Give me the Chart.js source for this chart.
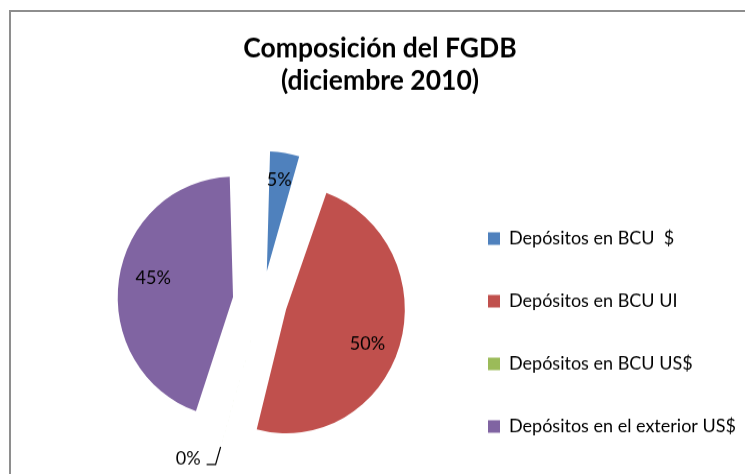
<!DOCTYPE html>
<html><head><meta charset="utf-8">
<script src="https://cdn.jsdelivr.net/npm/chart.js@4.4.1/dist/chart.umd.min.js"></script>
<style>
html,body{margin:0;padding:0;background:#fff;overflow:hidden;}
#wrap{position:relative;width:745px;height:474px;overflow:hidden;background:#fff;}
#frame{position:absolute;left:9px;top:10px;width:800px;height:500px;border-top:2px solid #8e8e8e;border-left:2px solid #8e8e8e;pointer-events:none;}
canvas{position:absolute;left:0;top:0;transform:scaleY(1.04405);transform-origin:0 0;}
</style></head><body>
<div id="wrap"><canvas id="c" width="745" height="454"></canvas><div id="frame"></div></div>
<script>
const titleLines = ['Composición del FGDB', '(diciembre 2010)'];
const categories = ['Depósitos en BCU  $', 'Depósitos en BCU UI', 'Depósitos en BCU US$', 'Depósitos en el exterior US$'];
const shares = [5.0, 49.5, 0.25, 45.25];

const chartTitle = {
  id: 'chartTitle',
  afterDraw(chart) {
    const ctx = chart.ctx;
    ctx.save();
    ctx.font = 'bold 26.5px Lato';
    ctx.fillStyle = '#000';
    ctx.textAlign = 'center';
    ctx.textBaseline = 'alphabetic';
    const baselines = [55.3, 86.2];
    titleLines.forEach((t, i) => ctx.fillText(t, 380, baselines[i]));
    ctx.restore();
  }
};

const sliceLabels = {
  id: 'sliceLabels',
  afterDatasetsDraw(chart, args, opts) {
    const meta = chart.getDatasetMeta(0);
    const ds = chart.data.datasets[0];
    const ctx = chart.ctx;
    ctx.save();
    ctx.font = '18px Lato';
    ctx.fillStyle = '#000';
    ctx.textAlign = 'center';
    ctx.textBaseline = 'middle';
    meta.data.forEach((arc, i) => {
      const p = arc.getProps(['x','y','startAngle','endAngle','outerRadius','circumference'], true);
      const mid = (p.startAngle + p.endAngle) / 2;
      const off = ds.offset[i] / 4;
      const fix = 1 - Math.sin(Math.min(Math.PI, p.circumference));
      const R = p.outerRadius + off * fix;
      const cx = p.x + Math.cos(mid) * off, cy = p.y + Math.sin(mid) * off;
      const txt = Math.round(ds.data[i]) + '%';
      if (ds.data[i] < 1) {
        const px = cx + Math.cos(mid) * (R + 1), py = cy + Math.sin(mid) * (R + 1);
        const ex = px + Math.cos(mid) * 17.5, ey = py + Math.sin(mid) * 17.5;
        ctx.strokeStyle = '#000'; ctx.lineWidth = 1.2;
        ctx.beginPath(); ctx.moveTo(px, py); ctx.lineTo(ex, ey); ctx.lineTo(ex - 9, ey); ctx.stroke();
        ctx.textAlign = 'right';
        ctx.fillText(txt, ex - 15, ey - 6);
        ctx.textAlign = 'center';
      } else {
        const a = mid + opts.turn[i] * Math.PI / 180;
        const d = R * opts.depth[i];
        ctx.fillText(txt, cx + Math.cos(a) * d, cy + Math.sin(a) * d);
      }
    });
    ctx.restore();
  }
};

new Chart(document.getElementById('c'), {
  type: 'pie',
  data: {
    labels: categories,
    datasets: [{
      data: shares,
      backgroundColor: ['#4F81BD', '#C0504D', '#9BBB59', '#8064A2'],
      borderWidth: 0,
      offset: [118, 100, 100, 118],
      radius: 94.5
    }]
  },
  options: {
    responsive: false,
    animation: false,
    devicePixelRatio: 1,
    layout: { padding: { left: 78.4, right: 0, top: 124, bottom: -5.4 } },
    plugins: {
      title: { display: false },
      legend: {
        position: 'right', align: 'end', maxWidth: 299,
        labels: { boxWidth: 12, boxHeight: 12, padding: 42, color: '#000', font: { family: 'Lato', size: 18 } }
      },
      tooltip: { enabled: false },
      sliceLabels: { depth: [0.77, 0.74, 0, 0.71], turn: [-1, 5, 0, 4.5] }
    }
  },
  plugins: [sliceLabels, chartTitle]
});
</script>
</body></html>
